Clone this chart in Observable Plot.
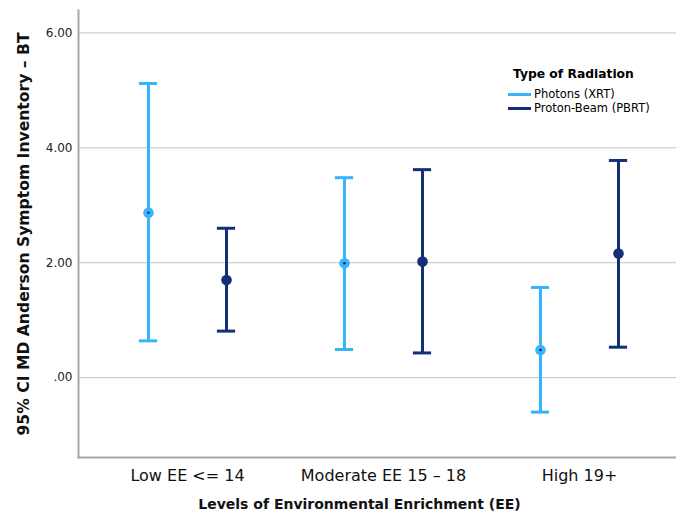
<!DOCTYPE html>
<html>
<head>
<meta charset="utf-8">
<script src="https://cdn.jsdelivr.net/npm/d3@7"></script>
<script src="https://cdn.jsdelivr.net/npm/@observablehq/plot@0.6"></script>
<style>
  html, body { margin: 0; padding: 0; background: #fff; }
  #wrap { position: relative; width: 676px; height: 515px; font-family: "DejaVu Sans", sans-serif; }
  #legend { position: absolute; left: 508px; top: 67px; color: #000; }
  #legend .title { font-weight: bold; font-size: 12.3px; margin-left: 5px; margin-bottom: 6px; }
  #legend .item { display: flex; align-items: center; font-size: 11.5px; height: 14px; }
  #legend .sw { width: 23px; height: 3px; margin-right: 3px; }
</style>
</head>
<body>
<div id="wrap"></div>
<script>
const categories = ["Low EE <= 14", "Moderate EE 15 \u2013 18", "High 19+"];
const seriesNames = ["Photons (XRT)", "Proton-Beam (PBRT)"];
const seriesColors = ["#38b4fc", "#142f78"];
const xrtMean = [2.87, 1.99, 0.48];
const xrtLow  = [0.64, 0.49, -0.60];
const xrtHigh = [5.12, 3.48, 1.57];
const pbrtMean = [1.70, 2.02, 2.16];
const pbrtLow  = [0.81, 0.43, 0.53];
const pbrtHigh = [2.60, 3.62, 3.78];
const yTicks = [0, 2, 4, 6];
const yDomain = [-1.39, 6.39];
const legendTitle = "Type of Radiation";
const xTitle = "Levels of Environmental Enrichment (EE)";
const yTitle = "95% CI MD Anderson Symptom Inventory \u2013 BT";

const xrt = categories.map((c, i) => ({cat: c, mean: xrtMean[i], lo: xrtLow[i], hi: xrtHigh[i]}));
const pbrt = categories.map((c, i) => ({cat: c, mean: pbrtMean[i], lo: pbrtLow[i], hi: pbrtHigh[i]}));

function bars(data, color, dx) {
  return [
    Plot.ruleX(data, {x: "cat", y1: "lo", y2: "hi", stroke: color, strokeWidth: 3, dx}),
    Plot.tickY(data, {x: "cat", y: "hi", stroke: color, strokeWidth: 3, dx, insetLeft: 88.9, insetRight: 88.9}),
    Plot.tickY(data, {x: "cat", y: "lo", stroke: color, strokeWidth: 3, dx, insetLeft: 88.9, insetRight: 88.9}),
    Plot.dot(data, {x: "cat", y: "mean", r: 5.3, fill: color, stroke: "none", dx})
  ];
}

const chart = Plot.plot({
  width: 676,
  height: 515,
  marginLeft: 78,
  marginRight: 0,
  marginTop: 10,
  marginBottom: 58,
  style: {fontFamily: "DejaVu Sans, sans-serif", background: "#fff", color: "#000"},
  x: {type: "band", domain: categories, range: [88, 678], padding: 0},
  y: {domain: yDomain},
  marks: [
    Plot.gridY(yTicks, {stroke: "#c4c4c4", strokeOpacity: 1, strokeWidth: 1}),
    Plot.frame({anchor: "left", stroke: "#a8a8a8", strokeWidth: 2}),
    Plot.frame({anchor: "bottom", stroke: "#a8a8a8", strokeWidth: 2}),
    Plot.axisY(yTicks, {tickSize: 0, tickPadding: 6, fontSize: 12, label: null,
      tickFormat: d => d === 0 ? ".00" : d.toFixed(2), fill: "#222"}),
    Plot.axisX({tickSize: 0, tickPadding: 12, fontSize: 16, label: null, fill: "#111"}),
    ...bars(xrt, seriesColors[0], -39),
    Plot.dot(xrt, {x: "cat", y: "mean", r: 1.3, fill: seriesColors[1], dx: -39}),
    ...bars(pbrt, seriesColors[1], 39),
    Plot.text([yTitle], {frameAnchor: "left", textAnchor: "middle", rotate: -90, dx: -55, fontSize: 15.6, fontWeight: "bold", fill: "#111"}),
    Plot.text([xTitle], {frameAnchor: "bottom", dx: -18, dy: 51, fontSize: 14, fontWeight: "bold", fill: "#111"})
  ]
});

const wrap = document.getElementById("wrap");
wrap.appendChild(chart);

const legend = document.createElement("div");
legend.id = "legend";
const t = document.createElement("div");
t.className = "title";
t.textContent = legendTitle;
legend.appendChild(t);
seriesNames.forEach((name, i) => {
  const item = document.createElement("div");
  item.className = "item";
  const sw = document.createElement("span");
  sw.className = "sw";
  sw.style.background = seriesColors[i];
  const lab = document.createElement("span");
  lab.textContent = name;
  item.appendChild(sw);
  item.appendChild(lab);
  legend.appendChild(item);
});
wrap.appendChild(legend);
</script>
</body>
</html>
